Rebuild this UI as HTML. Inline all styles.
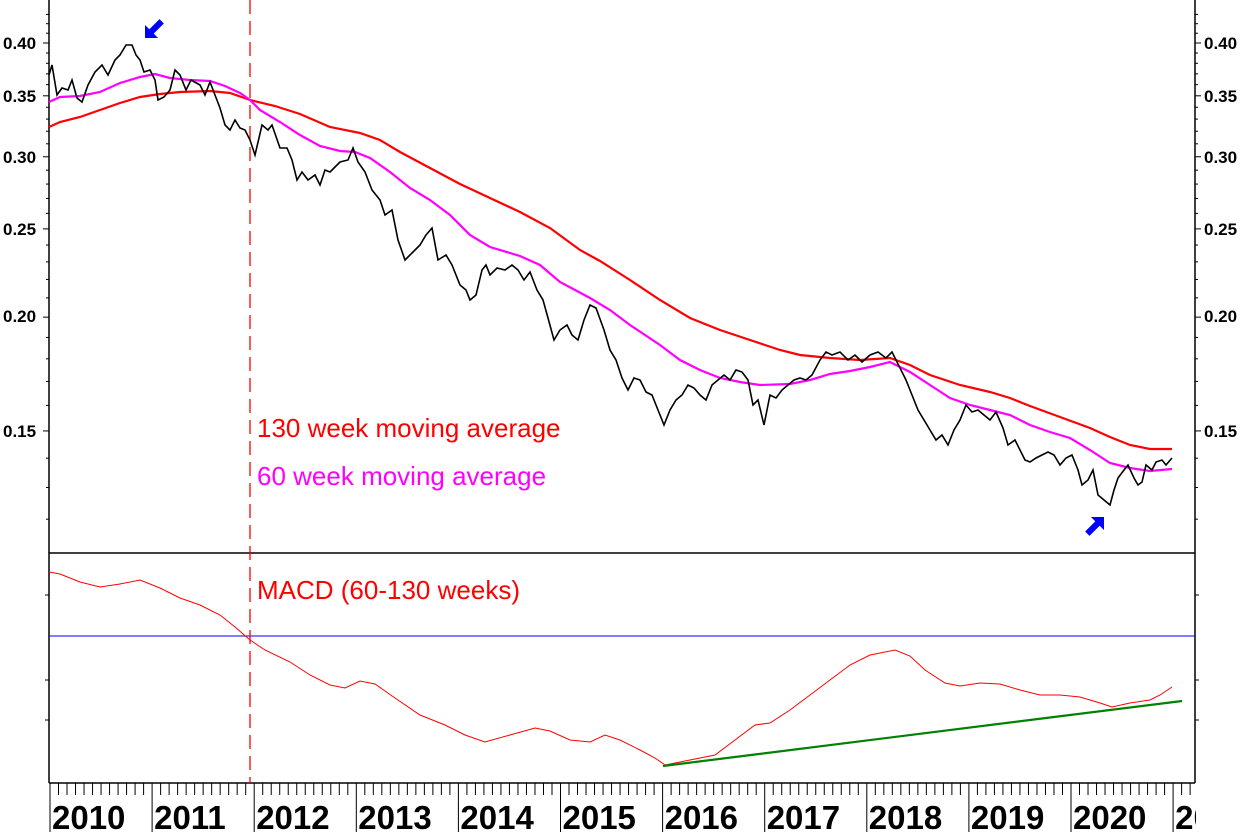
<!DOCTYPE html><html><head><style>body{margin:0;background:#fff}svg{display:block}</style></head><body>
<svg width="1243" height="832" xmlns="http://www.w3.org/2000/svg" font-family="Liberation Sans, sans-serif">
<rect width="1243" height="832" fill="#fff"/>
<g stroke="#000" stroke-width="1.5" fill="none">
<line x1="49" y1="0" x2="49" y2="783"/><line x1="1195" y1="0" x2="1195" y2="783"/>
<line x1="49" y1="553" x2="1195" y2="553"/><line x1="49" y1="783" x2="1195" y2="783"/>
</g>
<line x1="49" y1="636" x2="1195" y2="636" stroke="#0000ff" stroke-width="1"/>
<g id="yt" stroke="#000" stroke-width="1"></g>
<g font-weight="bold" font-size="17" fill="#000">
<text x="3" y="49">0.40</text><text x="3" y="102">0.35</text><text x="3" y="163">0.30</text><text x="3" y="235">0.25</text><text x="3" y="322">0.20</text><text x="3" y="437">0.15</text>
<text x="1204" y="49">0.40</text><text x="1204" y="102">0.35</text><text x="1204" y="163">0.30</text><text x="1204" y="235">0.25</text><text x="1204" y="322">0.20</text><text x="1204" y="437">0.15</text>
</g>
<g id="xt" stroke="#000" stroke-width="1"></g>
<g font-weight="bold" font-size="33" fill="#000" id="yl"></g>
<line x1="250" y1="0" x2="250" y2="783" stroke="#ff0000" stroke-width="1.3" stroke-dasharray="14,7"/>
<polyline fill="none" stroke="#ff0000" stroke-width="2.2" points="49,127 60,122 80,117 100,110 120,103 140,97 160,94 180,92 210,91 230,93 250,100 275,106 300,114 330,127 360,133 380,140 400,152 430,168 460,184 490,198 520,212 550,228 580,250 600,261 630,280 660,300 690,318 720,330 750,340 780,350 800,355 830,358 860,360 890,358 910,365 930,375 960,385 990,392 1010,398 1030,406 1060,417 1090,428 1110,437 1130,445 1150,449 1172,449"/>
<polyline fill="none" stroke="#ff00ff" stroke-width="2.2" points="49,102 60,97 80,96 100,92 120,83 140,77 155,74 170,78 190,80 210,81 225,86 240,93 250,100 260,110 280,122 300,135 320,146 340,151 355,152 370,158 390,172 410,188 430,200 450,215 470,235 490,247 520,256 540,265 560,282 590,298 610,310 630,325 660,345 680,360 700,370 720,378 740,382 760,385 790,384 810,380 830,374 850,371 870,367 890,362 910,372 930,385 950,398 970,405 990,410 1010,415 1030,425 1050,432 1070,438 1090,450 1110,463 1130,468 1150,471 1172,469"/>
<polyline fill="none" stroke="#000" stroke-width="1.6" points="49,75 52,65 57,95 62,88 68,90 72,80 77,98 82,102 88,85 95,72 102,65 108,75 115,60 120,55 126,45 132,45 136,55 140,60 144,72 150,70 155,80 158,100 164,97 170,90 175,70 180,75 186,90 191,80 200,85 205,95 210,82 215,95 220,108 225,125 230,130 235,120 240,128 245,130 250,140 255,155 262,125 268,130 272,125 280,148 287,148 292,160 297,180 302,172 308,180 315,175 320,185 325,170 330,172 340,162 348,160 353,148 358,162 365,172 372,190 380,200 385,215 392,210 398,240 405,260 415,250 420,245 426,235 432,228 438,260 446,255 452,265 460,285 466,290 470,300 476,295 482,270 486,265 490,275 497,268 505,270 512,265 518,270 524,280 530,272 537,290 543,300 548,318 554,340 560,330 567,325 572,335 578,340 584,320 590,305 596,308 604,330 610,350 616,360 622,378 628,390 634,378 640,380 646,392 652,395 658,410 664,425 670,410 676,400 682,395 688,385 694,388 700,395 706,400 712,385 718,380 724,375 730,380 736,370 742,372 748,380 753,405 758,400 764,425 770,395 776,398 782,390 788,385 794,380 800,378 806,380 812,375 820,360 826,352 832,355 840,352 848,360 855,355 862,362 870,355 878,352 886,358 892,352 900,368 906,380 912,395 918,410 924,420 930,430 936,440 942,435 948,445 954,430 960,420 966,405 972,412 978,410 984,415 990,420 996,412 1003,428 1008,445 1015,440 1020,450 1025,460 1030,462 1036,458 1042,455 1048,452 1054,455 1060,465 1066,458 1072,455 1078,470 1082,485 1088,480 1093,470 1098,495 1104,500 1110,505 1114,490 1118,478 1124,470 1128,465 1134,478 1138,485 1142,482 1146,465 1152,470 1156,462 1162,460 1166,465 1172,458"/>
<polyline fill="none" stroke="#ff0000" stroke-width="1" points="49,572 60,574 80,582 100,587 120,584 140,580 160,588 180,598 200,605 220,615 235,627 250,640 265,650 290,662 310,675 330,685 345,688 360,681 375,684 395,698 420,715 445,725 465,735 485,742 510,735 535,728 550,731 570,740 590,742 605,735 620,740 640,750 655,758 665,765 680,762 700,758 715,755 735,740 755,725 770,723 790,710 810,695 830,680 850,665 870,655 895,650 910,656 925,670 945,683 960,686 980,683 1000,684 1020,690 1040,695 1060,695 1080,697 1100,703 1112,707 1130,703 1150,700 1160,695 1172,687"/>
<line x1="663" y1="766" x2="1182" y2="701" stroke="#008000" stroke-width="2.2"/>
<g font-size="26">
<text x="257" y="437" fill="#ff0000">130 week moving average</text>
<text x="257" y="485" fill="#ff00ff">60 week moving average</text>
<text x="257" y="599" fill="#ff0000">MACD (60-130 weeks)</text>
</g>
<g fill="#0000ff">
<polygon points="0,0 9,0 6,3 13,10 10,13 3,6 0,9" transform="translate(145,38) rotate(-90) scale(1.45)"/>
<polygon points="0,0 9,0 6,3 13,10 10,13 3,6 0,9" transform="translate(1104,517) rotate(90) scale(1.45)"/>
</g>
<script>
var s='http://www.w3.org/2000/svg';
function L(g,x1,y1,x2,y2){var l=document.createElementNS(s,'line');l.setAttribute('x1',x1);l.setAttribute('y1',y1);l.setAttribute('x2',x2);l.setAttribute('y2',y2);g.appendChild(l);}
var yt=document.getElementById('yt');
function Y(v){return 43+395.5*Math.log(0.4/v);}
for(var v=0.12;v<=0.44;v+=0.01){var y=Y(v);if(y<0||y>553)continue;var big=Math.abs(v*100-Math.round(v*20)*5)<0.01;L(yt,49-(big?6:3),y,49,y);L(yt,1195,y,1195+(big?6:3),y);}
[595,680,720].forEach(function(y){L(yt,1195,y,1199,y);L(yt,45,y,49,y);});
var xt=document.getElementById('xt'),yl=document.getElementById('yl');
for(var i=0;i<12;i++){var x0=50+i*102.1;for(var m=0;m<12;m++){var x=x0+m*102.1/12;if(x>1195)break;L(xt,x,783,x,m==0?832:795);}
if(x0<1195){var t=document.createElementNS(s,'text');t.setAttribute('x',x0+2);t.setAttribute('y',829);t.textContent=2010+i;yl.appendChild(t);}}
</script>
<rect x="1196" y="784" width="47" height="48" fill="#fff"/>
</svg></body></html>
